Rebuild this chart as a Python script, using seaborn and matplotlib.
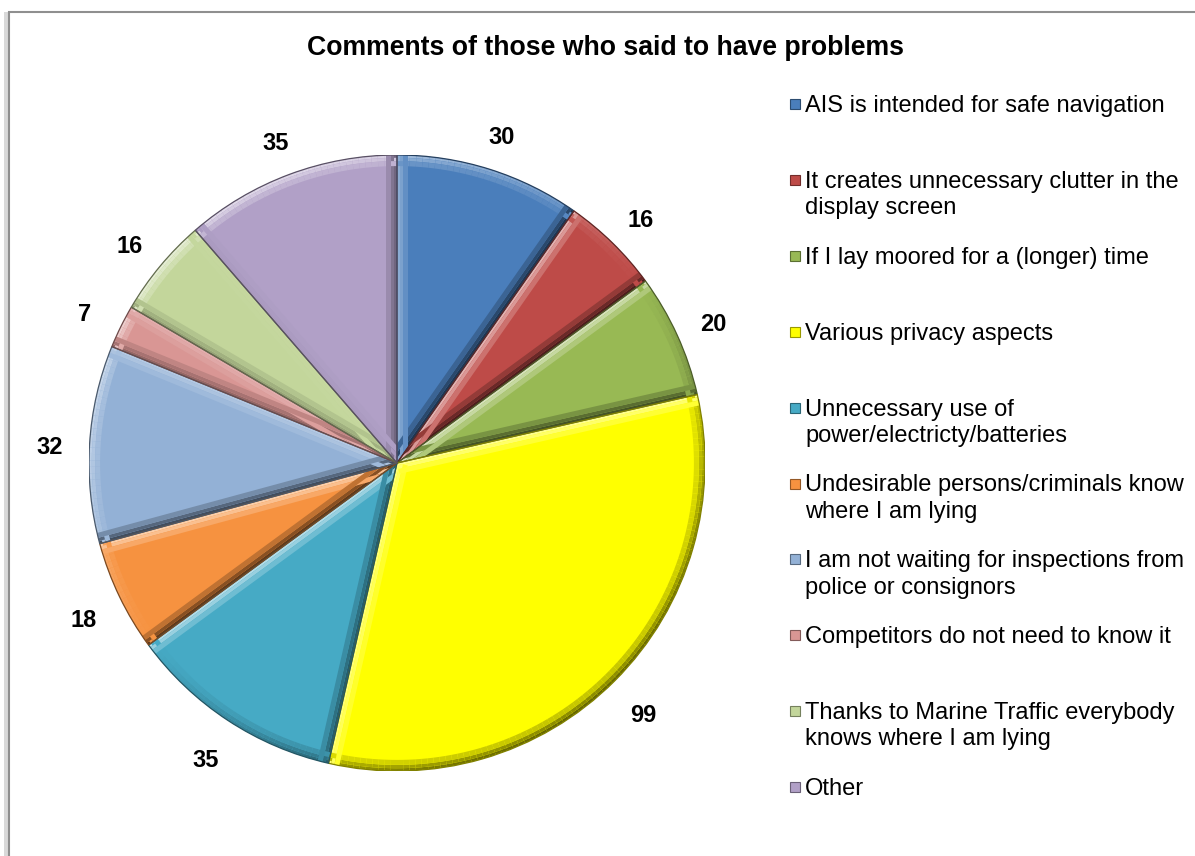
import numpy as np
import matplotlib
matplotlib.use("Agg")
import matplotlib.pyplot as plt
from matplotlib.patches import Rectangle, Wedge
from matplotlib.collections import PolyCollection
import matplotlib.colors as mcolors
import seaborn as sns

# Survey answers: comments of respondents who reported problems
categories = [
    "AIS is intended for safe navigation",
    "It creates unnecessary clutter in the\ndisplay screen",
    "If I lay moored for a (longer) time",
    "Various privacy aspects",
    "Unnecessary use of\npower/electricty/batteries",
    "Undesirable persons/criminals know\nwhere I am lying",
    "I am not waiting for inspections from\npolice or consignors",
    "Competitors do not need to know it",
    "Thanks to Marine Traffic everybody\nknows where I am lying",
    "Other",
]
counts = [30, 16, 20, 99, 35, 18, 32, 7, 16, 35]
slice_colors = ["#4A7EBB", "#BE4B48", "#98B954", "#FFFF00", "#46AAC5",
                "#F69240", "#93B1D6", "#D99694", "#C3D69B", "#B1A0C7"]
title = "Comments of those who said to have problems"

sns.set_theme(style="white")
plt.rcParams["font.family"] = ["Liberation Sans", "DejaVu Sans"]

LIGHT = np.array([-0.6, 0.8])


def lit(c, normal, amount=0.45):
    """Tint a colour by how much an edge faces the upper-left light."""
    rgb = np.array(mcolors.to_rgb(c))
    k = float(np.dot(normal, LIGHT))
    if k >= 0:
        return tuple(rgb + (1 - rgb) * amount * k)
    return tuple(rgb * (1 + amount * k))


W, H = 1195, 856
fig = plt.figure(figsize=(W / 100, H / 100), dpi=100)
fig.patch.set_facecolor("white")

# Outer frame with a soft shadow on the left
fig.patches.append(Rectangle((4 / W, 0), 6 / W, 1 - 12 / H, transform=fig.transFigure,
                             facecolor="#d9d9d9", edgecolor="none", zorder=-2))
fig.patches.append(Rectangle((9 / W, -0.01), 1.2, 1 - 12 / H + 0.01, transform=fig.transFigure,
                             facecolor="white", edgecolor="#8f8f8f", linewidth=1.5, zorder=-1))

# Pie axes: centre (397, 463) px, radius 308 px
cx, cy, r = 397, 463, 308
ax = fig.add_axes([(cx - r) / W, (H - cy - r) / H, 2 * r / W, 2 * r / H])
ax.set_zorder(2)
ax.patch.set_alpha(0)
palette = sns.color_palette(slice_colors)

wedges, texts = ax.pie(
    counts,
    colors=palette,
    startangle=90,
    counterclock=False,
    labels=[str(v) for v in counts],
    labeldistance=1.13,
    radius=1.0,
    wedgeprops=dict(linewidth=0, antialiased=True),
    textprops=dict(fontsize=17, fontweight="bold", color="black"),
)

# Bevel: graded bands along every slice edge, lit or shaded by facing direction
d = 0.036
layers = [(0.0, 0.25, 0.6), (0.25, 0.55, 0.45), (0.55, 1.0, 0.22)]
for w, col in zip(wedges, slice_colors):
    R = w.r
    t1, t2 = np.radians(w.theta1), np.radians(w.theta2)
    polys, fcs = [], []
    for a0, a1, amt in layers:
        # outer arc, split into short pieces
        angs = np.linspace(t1, t2, max(4, int((t2 - t1) / 0.02)))
        for a, b in zip(angs[:-1], angs[1:]):
            ro, ri = R - a0 * d, R - a1 * d
            polys.append([(ro * np.cos(a), ro * np.sin(a)), (ro * np.cos(b), ro * np.sin(b)),
                          (ri * np.cos(b), ri * np.sin(b)), (ri * np.cos(a), ri * np.sin(a))])
            m = 0.5 * (a + b)
            fcs.append(lit(col, np.array([np.cos(m), np.sin(m)]), amt))
        # the two straight edges
        for t, n in [(t1, np.array([np.sin(t1), -np.cos(t1)])),
                     (t2, np.array([-np.sin(t2), np.cos(t2)]))]:
            p = np.array([np.cos(t), np.sin(t)]) * R
            o0, o1 = -a0 * d * n, -a1 * d * n
            polys.append([tuple(o0), tuple(p + o0), tuple(p + o1), tuple(o1)])
            fcs.append(lit(col, n, amt))
    pc = PolyCollection(polys, facecolors=fcs, edgecolors="none", zorder=w.get_zorder() + 0.1)
    pc.set_clip_path(w)
    ax.add_collection(pc)
    rim = Wedge(w.center, R, w.theta1, w.theta2, facecolor="none",
                edgecolor=tuple(np.array(mcolors.to_rgb(col)) * 0.5), linewidth=0.9,
                zorder=w.get_zorder() + 0.3)
    ax.add_patch(rim)

for t in texts:
    t.set_horizontalalignment("center")
    t.set_verticalalignment("center_baseline")
    x, y = t.get_position()
    t.set_position((x, y - 0.012))
ax.set_xlim(-1, 1)
ax.set_ylim(-1, 1)
ax.set_aspect("equal")
ax.axis("off")

fig.text(606 / W, 1 - 48 / H, title, ha="center", va="center",
         fontsize=19.2, fontweight="bold", color="black")

# Legend, one evenly spaced slot per category
y0, step = 104, 75.9
for i, (lab, col) in enumerate(zip(categories, slice_colors)):
    y = y0 + i * step
    fig.patches.append(Rectangle((790 / W, 1 - (y + 5) / H), 10 / W, 10 / H,
                                 transform=fig.transFigure, facecolor=col,
                                 edgecolor=tuple(np.array(mcolors.to_rgb(col)) * 0.6),
                                 linewidth=0.8, zorder=3))
    fig.text(805 / W, 1 - (y - 9) / H, lab, ha="left", va="top",
             fontsize=17, color="black", linespacing=1.25)

fig.savefig("out.png", dpi=100)
